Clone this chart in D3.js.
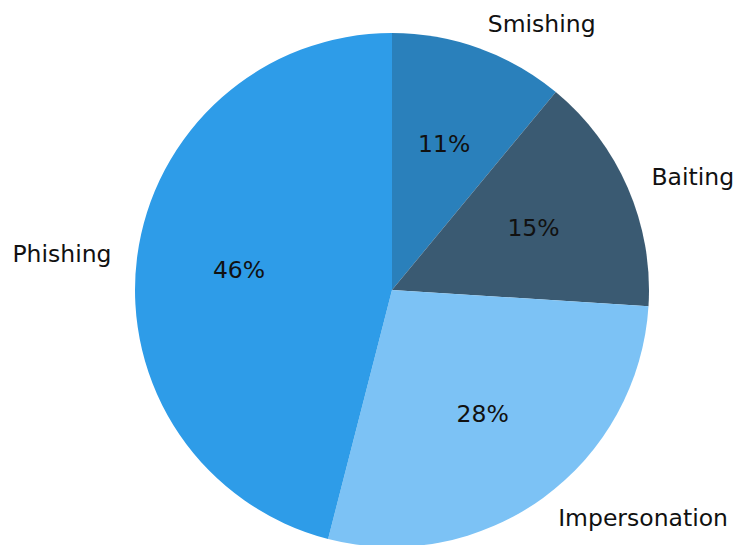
<!DOCTYPE html>
<html>
<head>
<meta charset="utf-8">
<script src="https://cdn.jsdelivr.net/npm/d3@7"></script>
<style>
  body { margin: 0; background: #fff; }
</style>
</head>
<body>
<div id="chart"></div>
<script>
const width = 738;
const height = 545;
const cx = 392;
const cy = 290;
const radius = 257;

const labels = ["Smishing", "Baiting", "Impersonation", "Phishing"];
const values = [11, 15, 28, 46];
const colors = ["#2a80bb", "#3a5a72", "#7cc2f5", "#2e9ce8"];

const data = labels.map((label, i) => ({ label: label, value: values[i], color: colors[i] }));
const total = d3.sum(values);

const svg = d3.select("#chart").append("svg")
    .attr("width", width)
    .attr("height", height);

const pie = d3.pie()
    .sort(null)
    .value(d => d.value)
    .startAngle(0)
    .endAngle(2 * Math.PI);

const arc = d3.arc()
    .innerRadius(0)
    .outerRadius(radius);

const arcs = pie(data);

const g = svg.append("g")
    .attr("transform", `translate(${cx},${cy})`);

g.selectAll("path")
    .data(arcs)
    .enter().append("path")
    .attr("d", arc)
    .attr("fill", d => d.data.color);

const mid = d => (d.startAngle + d.endAngle) / 2;

// outer labels at 1.1 * radius
g.selectAll("text.label")
    .data(arcs)
    .enter().append("text")
    .attr("class", "label")
    .attr("x", d => 1.1 * radius * Math.sin(mid(d)))
    .attr("y", d => -1.1 * radius * Math.cos(mid(d)))
    .attr("dy", "0.32em")
    .style("text-anchor", d => Math.sin(mid(d)) > 0 ? "start" : "end")
    .style("font-family", "DejaVu Sans")
    .style("font-size", "23.5px")
    .style("fill", "#111")
    .text(d => d.data.label);

// percentage labels at 0.6 * radius
g.selectAll("text.pct")
    .data(arcs)
    .enter().append("text")
    .attr("class", "pct")
    .attr("x", d => 0.6 * radius * Math.sin(mid(d)))
    .attr("y", d => -0.6 * radius * Math.cos(mid(d)))
    .attr("dy", "0.32em")
    .style("text-anchor", "middle")
    .style("font-family", "DejaVu Sans")
    .style("font-size", "23.5px")
    .style("fill", "#111")
    .text(d => Math.round(d.data.value / total * 100) + "%");
</script>
</body>
</html>
